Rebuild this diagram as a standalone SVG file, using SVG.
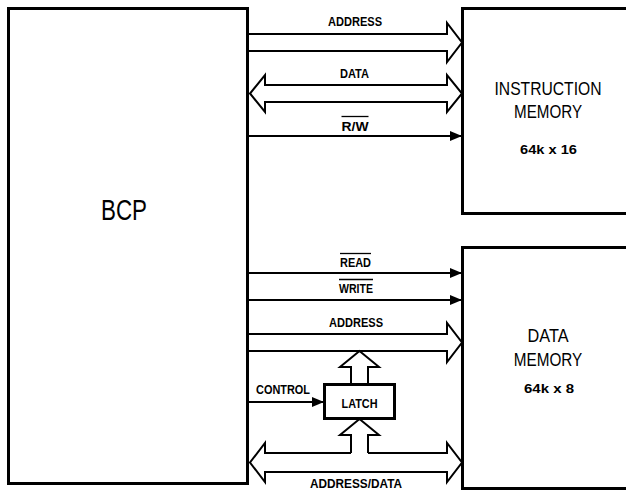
<svg xmlns="http://www.w3.org/2000/svg" width="626" height="491" viewBox="0 0 626 491">
<style>
.box{fill:#fff;stroke:#000;stroke-width:3}
.bus{fill:none;stroke:#000;stroke-width:2;stroke-linejoin:miter}
.ln{fill:none;stroke:#000;stroke-width:2}
.lbl{font-family:"Liberation Sans",Arial,sans-serif;font-weight:bold;font-size:13.5px;fill:#000;text-anchor:middle}
.ttl{font-family:"Liberation Sans",Arial,sans-serif;font-size:18.5px;fill:#000;text-anchor:middle}
.sub{font-family:"Liberation Sans",Arial,sans-serif;font-weight:bold;font-size:13.5px;fill:#000;text-anchor:middle}
.ov{stroke:#000;stroke-width:1.3}
</style>
<defs>
<marker id="ah" markerUnits="userSpaceOnUse" markerWidth="12" markerHeight="10" refX="12" refY="5" orient="auto">
<path d="M0,0 L12,5 L0,10 z" fill="#000"/>
</marker>
</defs>
<rect width="626" height="491" fill="#fff"/>
<g id="bcp">
<rect class="box" x="8.5" y="8.5" width="239" height="475"/>
<text x="124" y="220" font-family="Liberation Sans,Arial,sans-serif" font-size="30" text-anchor="middle" textLength="46" lengthAdjust="spacingAndGlyphs">BCP</text>
</g>
<g id="instruction-memory">
<rect class="box" x="462.5" y="8.5" width="180" height="205"/>
<text class="ttl" x="548" y="94.5" textLength="107" lengthAdjust="spacingAndGlyphs">INSTRUCTION</text>
<text class="ttl" x="548" y="118.3" textLength="68" lengthAdjust="spacingAndGlyphs">MEMORY</text>
<text class="sub" x="548.5" y="154" textLength="57" lengthAdjust="spacingAndGlyphs">64k x 16</text>
</g>
<g id="data-memory">
<rect class="box" x="462.5" y="247.5" width="180" height="241"/>
<text class="ttl" x="548" y="341.7" textLength="41" lengthAdjust="spacingAndGlyphs">DATA</text>
<text class="ttl" x="548" y="366" textLength="68.5" lengthAdjust="spacingAndGlyphs">MEMORY</text>
<text class="sub" x="549" y="393.3" textLength="50" lengthAdjust="spacingAndGlyphs">64k x 8</text>
</g>
<g id="latch">
<rect class="box" x="324.5" y="384.5" width="70" height="34"/>
<text class="lbl" x="359.5" y="407.5" textLength="36" lengthAdjust="spacingAndGlyphs">LATCH</text>
</g>
<g id="connectors">
<path class="bus" d="M248,34 H447 V23 L462,42.5 L447,62 V51 H248"/>
<path class="bus" d="M265,85 H447 V75 L462,93.5 L447,112 V102 H265 V112 L250,93.5 L265,75 Z"/>
<path class="ln" d="M248,136 H462" marker-end="url(#ah)"/>
<path class="ln" d="M248,273 H462" marker-end="url(#ah)"/>
<path class="ln" d="M248,300 H462" marker-end="url(#ah)"/>
<path class="bus" d="M248,334 H447 V323 L462,342.5 L447,362 V351 H248"/>
<path class="bus" d="M351,384 V367 H340 L359.5,351 L379,367 H368 V384"/>
<path class="ln" d="M248,402 H324" marker-end="url(#ah)"/>
<path class="bus" d="M351,453 V435 H340 L359.5,419 L379,435 H368 V453"/>
<path class="bus" d="M351,453 H265 V443 L250,462.5 L265,482 V472 H447 V482 L462,462.5 L447,443 V453 H368"/>
</g>
<g id="labels">
<text class="lbl" x="355" y="26" textLength="54" lengthAdjust="spacingAndGlyphs">ADDRESS</text>
<text class="lbl" x="354.5" y="78" textLength="29" lengthAdjust="spacingAndGlyphs">DATA</text>
<text class="lbl" x="355" y="130.5" textLength="27" lengthAdjust="spacingAndGlyphs">R/W</text>
<line class="ov" x1="341.5" y1="116.5" x2="368.5" y2="116.5"/>
<text class="lbl" x="355.5" y="266.7" textLength="31" lengthAdjust="spacingAndGlyphs">READ</text>
<line class="ov" x1="340" y1="253.5" x2="371" y2="253.5"/>
<text class="lbl" x="356" y="292.7" textLength="34" lengthAdjust="spacingAndGlyphs">WRITE</text>
<line class="ov" x1="339" y1="279.5" x2="373" y2="279.5"/>
<text class="lbl" x="356" y="327.3" textLength="54" lengthAdjust="spacingAndGlyphs">ADDRESS</text>
<text class="lbl" x="283" y="394" textLength="54" lengthAdjust="spacingAndGlyphs">CONTROL</text>
<text class="lbl" x="356" y="488" textLength="92" lengthAdjust="spacingAndGlyphs">ADDRESS/DATA</text>
</g>
</svg>
